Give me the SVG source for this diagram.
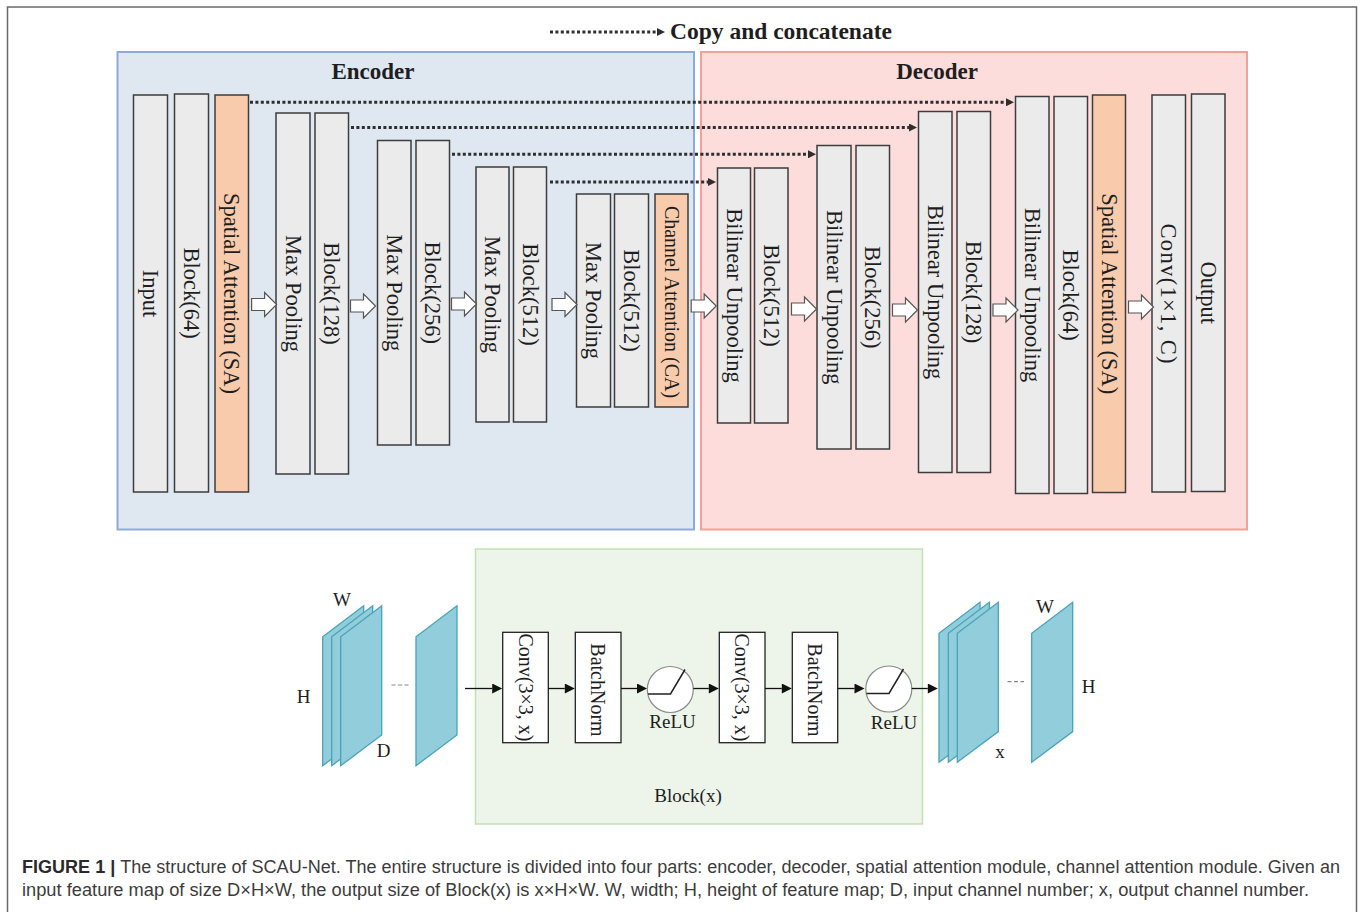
<svg xmlns="http://www.w3.org/2000/svg" xmlns:xlink="http://www.w3.org/1999/xlink" width="1363" height="912" viewBox="0 0 1363 912">
<style>
.frame{fill:#fff;stroke:#6a6a6a;stroke-width:1.5}
.enc{fill:#dfe7f1;stroke:#8eaadc;stroke-width:2}
.dec{fill:#fddcdc;stroke:#f3a096;stroke-width:2}
.blk{fill:#edf5eb;stroke:#c3dfb5;stroke-width:1.5}
.col{fill:#ebebeb;stroke:#3d3d3d;stroke-width:1.5}
.att{fill:#f8cbad;stroke:#3d3d3d;stroke-width:1.5}
.ct{font-family:"Liberation Serif","Times New Roman",serif;font-size:22.5px;fill:#1e1e1e;text-anchor:middle;dominant-baseline:central}
.ct20{font-size:20px}
.ttl{font-family:"Liberation Serif","Times New Roman",serif;font-weight:bold;font-size:23px;fill:#1e1e1e;text-anchor:middle}
.harrow{fill:#fff;stroke:#555;stroke-width:1.2}
.dot{stroke:#2e2e2e;stroke-width:3;stroke-dasharray:3 2.4;fill:none}
.sol{stroke:#111;stroke-width:1.3;fill:none}
.plate{fill:#92cddc;stroke:#49a3b8;stroke-width:1.3}
.box{fill:#fff;stroke:#222;stroke-width:1.3}
.bt{font-family:"Liberation Serif","Times New Roman",serif;font-size:20px;fill:#1e1e1e;text-anchor:middle;dominant-baseline:central}
.lbl{font-family:"Liberation Serif","Times New Roman",serif;font-size:19px;fill:#1e1e1e;text-anchor:middle}
.relu{fill:#fff;stroke:#8a8a8a;stroke-width:1.2}
.reluc{fill:none;stroke:#222;stroke-width:1.5}
.dash{stroke:#888;stroke-width:1.2;stroke-dasharray:4 2.5}
.cap{font-family:"Liberation Sans",Arial,sans-serif;font-size:17.5px;fill:#3c3c3c}
</style>
<defs>
<marker id="dh" viewBox="0 0 10 10" refX="0" refY="5" markerWidth="9" markerHeight="8" markerUnits="userSpaceOnUse" orient="auto"><path d="M0,0 L10,5 L0,10 Z" fill="#2e2e2e"/></marker>
<marker id="sh" viewBox="0 0 10 10" refX="0" refY="5" markerWidth="11" markerHeight="10" markerUnits="userSpaceOnUse" orient="auto"><path d="M0,0 L10,5 L0,10 Z" fill="#111"/></marker>
<path id="ha" class="harrow" d="M0,-6 H13 V-12 L25,0 L13,12 V6 H0 Z"/>
<path id="pl" class="plate" d="M0,129 V0 L41,-31 V98.3 Z"/>
</defs>

<rect class="frame" x="7.5" y="7" width="1349" height="920"/>

<g id="legend">
<line class="dot" x1="550" y1="32" x2="657" y2="32" marker-end="url(#dh)"/>
<text x="670" y="39" font-family="Liberation Serif,Times New Roman,serif" font-weight="bold" font-size="23.5" fill="#1e1e1e">Copy and concatenate</text>
</g>

<g id="encoder">
<rect class="enc" x="117.5" y="52" width="576.5" height="477.5"/>
<text class="ttl" x="373" y="79">Encoder</text>
</g>
<g id="decoder">
<rect class="dec" x="701" y="52" width="546" height="477.5"/>
<text class="ttl" x="937" y="79">Decoder</text>
</g>

<g id="e-input"><rect class="col" x="133.5" y="95" width="34" height="397"/><text class="ct" transform="translate(150.5,293.5) rotate(90)">Input</text></g>
<g id="e-block64"><rect class="col" x="174.5" y="94" width="34" height="398"/><text class="ct" transform="translate(191.5,293) rotate(90)">Block(64)</text></g>
<g id="e-sa"><rect class="att" x="215" y="95" width="33.5" height="397"/><text class="ct" transform="translate(231.75,293.5) rotate(90)">Spatial Attention (SA)</text></g>
<g id="e-pool1"><rect class="col" x="276" y="113" width="34" height="361"/><text class="ct" transform="translate(293,293.5) rotate(90)">Max Pooling</text></g>
<g id="e-block128"><rect class="col" x="315" y="113" width="33.5" height="361"/><text class="ct" transform="translate(331.75,293.5) rotate(90)">Block(128)</text></g>
<g id="e-pool2"><rect class="col" x="377.5" y="140.5" width="33.5" height="304.5"/><text class="ct" transform="translate(394.25,292.75) rotate(90)">Max Pooling</text></g>
<g id="e-block256"><rect class="col" x="416" y="140.5" width="33.5" height="304.5"/><text class="ct" transform="translate(432.75,292.75) rotate(90)">Block(256)</text></g>
<g id="e-pool3"><rect class="col" x="476" y="167" width="33" height="255"/><text class="ct" transform="translate(492.5,294.5) rotate(90)">Max Pooling</text></g>
<g id="e-block512a"><rect class="col" x="513.5" y="167" width="33" height="255"/><text class="ct" transform="translate(530,294.5) rotate(90)">Block(512)</text></g>
<g id="e-pool4"><rect class="col" x="576.5" y="194" width="34" height="213"/><text class="ct" transform="translate(593.5,300.5) rotate(90)">Max Pooling</text></g>
<g id="e-block512b"><rect class="col" x="614.5" y="194" width="34" height="213"/><text class="ct" transform="translate(631.5,300.5) rotate(90)">Block(512)</text></g>
<g id="e-ca"><rect class="att" x="655" y="194" width="33" height="213"/><text class="ct ct20" transform="translate(671.5,302) rotate(90)">Channel Attention (CA)</text></g>

<g id="d-up1"><rect class="col" x="717.5" y="168" width="33" height="255"/><text class="ct" transform="translate(734,295.5) rotate(90)">Bilinear Unpooling</text></g>
<g id="d-block512"><rect class="col" x="754.5" y="168" width="33.5" height="255"/><text class="ct" transform="translate(771.25,295.5) rotate(90)">Block(512)</text></g>
<g id="d-up2"><rect class="col" x="817" y="145.5" width="34" height="303.5"/><text class="ct" transform="translate(834,297.25) rotate(90)">Bilinear Unpooling</text></g>
<g id="d-block256"><rect class="col" x="856" y="145.5" width="33.5" height="303.5"/><text class="ct" transform="translate(872.75,297.25) rotate(90)">Block(256)</text></g>
<g id="d-up3"><rect class="col" x="918.5" y="111.5" width="33.5" height="361"/><text class="ct" transform="translate(935.25,292) rotate(90)">Bilinear Unpooling</text></g>
<g id="d-block128"><rect class="col" x="957" y="111.5" width="33.5" height="361"/><text class="ct" transform="translate(973.75,292) rotate(90)">Block(128)</text></g>
<g id="d-up4"><rect class="col" x="1015.5" y="96.5" width="33.5" height="397"/><text class="ct" transform="translate(1032.25,295) rotate(90)">Bilinear Unpooling</text></g>
<g id="d-block64"><rect class="col" x="1054" y="96.5" width="33.5" height="397"/><text class="ct" transform="translate(1070.75,295) rotate(90)">Block(64)</text></g>
<g id="d-sa"><rect class="att" x="1092.5" y="95" width="33" height="397.5"/><text class="ct" transform="translate(1109,293.75) rotate(90)">Spatial Attention (SA)</text></g>
<g id="d-conv"><rect class="col" x="1152" y="95" width="33.5" height="397"/><text class="ct" transform="translate(1168.75,293.5) rotate(90)" textLength="140" lengthAdjust="spacing">Conv(1×1, C)</text></g>
<g id="d-output"><rect class="col" x="1191.5" y="94" width="33.5" height="397.5"/><text class="ct" transform="translate(1208.25,292.75) rotate(90)">Output</text></g>

<g id="flow-arrows">
<use href="#ha" x="251.6" y="304.5"/>
<use href="#ha" x="350.5" y="306"/>
<use href="#ha" x="451.5" y="304"/>
<use href="#ha" x="552" y="304.5"/>
<use href="#ha" x="691.2" y="306"/>
<use href="#ha" x="791.5" y="309"/>
<use href="#ha" x="892.5" y="310"/>
<use href="#ha" x="993" y="310"/>
<use href="#ha" x="1128.5" y="307"/>
</g>

<g id="block-x">
<rect class="blk" x="475.5" y="549" width="447" height="275"/>
<text class="lbl" x="688" y="802" font-size="20">Block(x)</text>
</g>

<g id="input-maps">
<use href="#pl" x="322.7" y="636.7"/>
<use href="#pl" x="331.7" y="636.7"/>
<use href="#pl" x="340.7" y="636.7"/>
<use href="#pl" x="416" y="636.7"/>
<line class="dash" x1="391.5" y1="685" x2="408.5" y2="685"/>
<text class="lbl" x="342" y="606">W</text>
<text class="lbl" x="303.5" y="703">H</text>
<text class="lbl" x="383.5" y="757">D</text>
</g>

<g id="conv1"><rect class="box" x="502.7" y="632.3" width="45.6" height="110.4"/><text class="bt" transform="translate(525.5,687.5) rotate(90)">Conv(3×3, x)</text></g>
<g id="bn1"><rect class="box" x="575.3" y="632.3" width="45.7" height="110.4"/><text class="bt" transform="translate(598.2,690) rotate(90)">BatchNorm</text></g>
<g id="relu1"><circle class="relu" cx="670.3" cy="689.5" r="23"/><path class="reluc" d="M648,694 H670.5 L685,669.5"/><text class="lbl" x="672.5" y="728">ReLU</text></g>
<g id="conv2"><rect class="box" x="719.3" y="632.3" width="45.7" height="110.4"/><text class="bt" transform="translate(742.2,687.5) rotate(90)">Conv(3×3, x)</text></g>
<g id="bn2"><rect class="box" x="792.3" y="632.3" width="45.4" height="110.4"/><text class="bt" transform="translate(815,690) rotate(90)">BatchNorm</text></g>
<g id="relu2"><circle class="relu" cx="888.8" cy="689" r="23"/><path class="reluc" d="M866.5,693.5 H889 L903.5,669"/><text class="lbl" x="894" y="729">ReLU</text></g>

<g id="output-maps">
<use href="#pl" x="939" y="633.3"/>
<use href="#pl" x="948.3" y="633.3"/>
<use href="#pl" x="957.3" y="633.3"/>
<use href="#pl" x="1031.7" y="633.3"/>
<line class="dash" x1="1007.5" y1="681.7" x2="1024" y2="681.7"/>
<text class="lbl" x="1000" y="758">x</text>
<text class="lbl" x="1045" y="613">W</text>
<text class="lbl" x="1088.5" y="693">H</text>
</g>

<g id="connectors">
<line class="dot" x1="250" y1="102.3" x2="1006" y2="102.3" marker-end="url(#dh)"/>
<line class="dot" x1="351" y1="127.5" x2="909" y2="127.5" marker-end="url(#dh)"/>
<line class="dot" x1="452" y1="154.3" x2="808" y2="154.3" marker-end="url(#dh)"/>
<line class="dot" x1="550" y1="182" x2="708" y2="182" marker-end="url(#dh)"/>
<line class="sol" x1="465" y1="688.5" x2="492.2" y2="688.5" marker-end="url(#sh)"/>
<line class="sol" x1="548.3" y1="688.5" x2="564.8" y2="688.5" marker-end="url(#sh)"/>
<line class="sol" x1="621" y1="688.5" x2="637" y2="688.5" marker-end="url(#sh)"/>
<line class="sol" x1="693.3" y1="688.5" x2="708.8" y2="688.5" marker-end="url(#sh)"/>
<line class="sol" x1="765" y1="688.5" x2="781.8" y2="688.5" marker-end="url(#sh)"/>
<line class="sol" x1="837.7" y1="688.5" x2="854.5" y2="688.5" marker-end="url(#sh)"/>
<line class="sol" x1="911.7" y1="688.5" x2="927.8" y2="688.5" marker-end="url(#sh)"/>
</g>

<g id="caption">
<text class="cap" x="22" y="873" textLength="1318" lengthAdjust="spacingAndGlyphs"><tspan font-weight="bold" fill="#2a2a2a">FIGURE 1 | </tspan>The structure of SCAU-Net. The entire structure is divided into four parts: encoder, decoder, spatial attention module, channel attention module. Given an</text>
<text class="cap" x="22" y="896" textLength="1287" lengthAdjust="spacingAndGlyphs">input feature map of size D×H×W, the output size of Block(x) is x×H×W. W, width; H, height of feature map; D, input channel number; x, output channel number.</text>
</g>
</svg>
